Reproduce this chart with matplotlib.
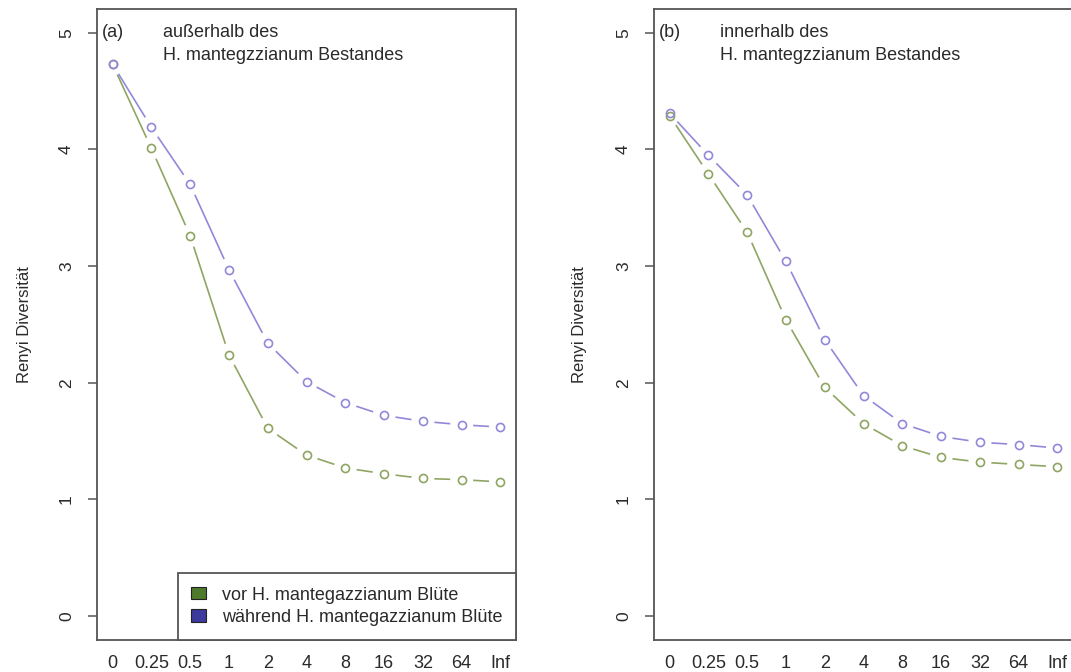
import numpy as np
import matplotlib
matplotlib.use("Agg")
import matplotlib.pyplot as plt
from matplotlib.patches import Patch

plt.rcParams["font.family"] = ["Liberation Sans", "DejaVu Sans"]

# ---- data ----
scales = ["0", "0.25", "0.5", "1", "2", "4", "8", "16", "32", "64", "Inf"]

out_before = [4.73, 4.01, 3.26, 2.24, 1.61, 1.38, 1.27, 1.22, 1.18, 1.17, 1.15]
out_during = [4.73, 4.19, 3.70, 2.97, 2.34, 2.01, 1.83, 1.72, 1.67, 1.64, 1.62]

in_before = [4.29, 3.79, 3.29, 2.54, 1.96, 1.65, 1.46, 1.36, 1.32, 1.30, 1.28]
in_during = [4.31, 3.95, 3.61, 3.04, 2.37, 1.89, 1.65, 1.54, 1.49, 1.47, 1.44]

legend_labels = ["vor H. mantegazzianum Blüte", "während H. mantegazzianum Blüte"]

GREEN_LINE = "#8fa563"
BLUE_LINE = "#9189d8"
GREEN_FILL = "#4d7a2c"
BLUE_FILL = "#3d3a9c"
AXIS_COL = "#555555"
TEXT_COL = "#2a2a2a"
FS = 13      # horizontal text
FS_V = 12    # rotated text

fig = plt.figure(figsize=(10.71, 6.72), dpi=100)
W, H = 1071, 672
ax_a = fig.add_axes([97 / W, (H - 639.5) / H, 419 / W, 630.2 / H])
ax_b = fig.add_axes([654 / W, (H - 639.5) / H, 419 / W, 630.2 / H])


def type_b(ax, y, color, gap=11.5):
    # R style type="b": points with line pieces that stop short of them
    x = np.arange(len(y))
    pts = ax.transData.transform(np.column_stack([x, y]))
    for p0, p1 in zip(pts[:-1], pts[1:]):
        d = p1 - p0
        L = np.hypot(*d)
        if L <= 2 * gap:
            continue
        u = d / L
        seg = ax.transData.inverted().transform([p0 + u * gap, p1 - u * gap])
        ax.plot(seg[:, 0], seg[:, 1], color=color, lw=1.2, solid_capstyle="butt")
    ax.plot(x, y, ls="none", marker="o", ms=5.8, mfc="none", mec=color, mew=1.2)


panels = [
    (ax_a, out_before, out_during, "(a)", "außerhalb des", -0.155),
    (ax_b, in_before, in_during, "(b)", "innerhalb des", -0.160),
]

for ax, before, during, tag, where, ylab_x in panels:
    ax.set_xlim(-0.4, 10.4)
    ax.set_ylim(-0.2, 5.2)
    for s in ax.spines.values():
        s.set_color(AXIS_COL)
        s.set_linewidth(1.3)
    ax.set_xticks(range(len(scales)))
    ax.set_xticklabels(scales)
    ax.set_yticks(range(6))
    ax.tick_params(axis="x", length=0, pad=11, labelsize=FS, labelcolor=TEXT_COL)
    ax.tick_params(axis="y", length=6.5, width=1.1, color=AXIS_COL, pad=10,
                   labelsize=12.5, labelcolor=TEXT_COL, labelrotation=90)
    for lab in ax.get_yticklabels():
        lab.set_va("center")
    ax.set_ylabel("Renyi Diversität", fontsize=FS_V, color=TEXT_COL)
    ax.yaxis.set_label_coords(ylab_x, 0.5)

    type_b(ax, before, GREEN_LINE)
    type_b(ax, during, BLUE_LINE)

    ax.text(0.012, 5.0, tag, transform=ax.get_yaxis_transform(), va="center",
            ha="left", fontsize=FS, color=TEXT_COL)
    ax.text(0.157, 5.0, where, transform=ax.get_yaxis_transform(), va="center",
            ha="left", fontsize=FS, color=TEXT_COL)
    ax.text(0.157, 4.80, "H. mantegzzianum Bestandes", transform=ax.get_yaxis_transform(),
            va="center", ha="left", fontsize=FS, color=TEXT_COL)

handles = [Patch(facecolor=GREEN_FILL, edgecolor="#222222", lw=0.8),
           Patch(facecolor=BLUE_FILL, edgecolor="#222222", lw=0.8)]
leg = ax_a.legend(handles, legend_labels, loc="lower right", borderaxespad=0,
                  fontsize=FS, fancybox=False, framealpha=1, edgecolor=AXIS_COL,
                  handlelength=0.8, handleheight=0.68, handletextpad=0.9,
                  labelspacing=0.3, borderpad=0.75)
leg.get_frame().set_linewidth(1.3)
for t in leg.get_texts():
    t.set_color(TEXT_COL)

fig.savefig("out.png", dpi=100)
